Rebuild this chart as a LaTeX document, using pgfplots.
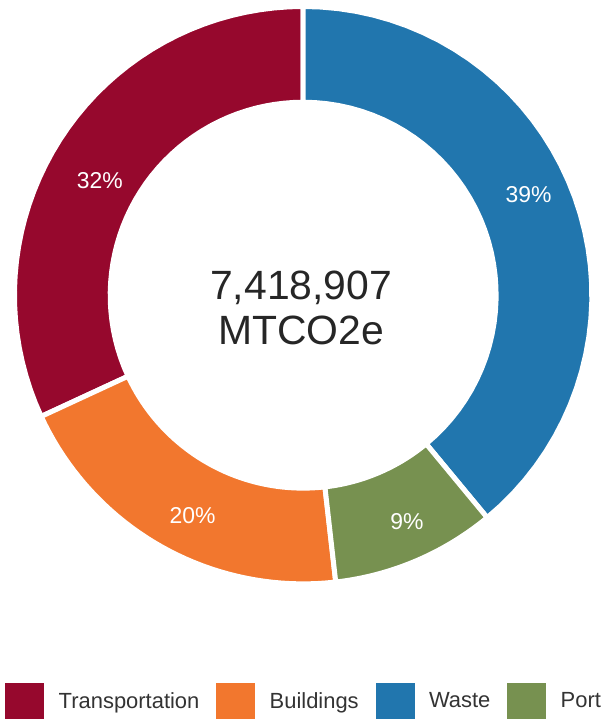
\documentclass[border=0pt]{standalone}
\usepackage{fontspec}
\setmainfont{Liberation Sans}
\usepackage{pgfplots}
\usepackage{pgfplotstable}
\pgfplotsset{compat=1.18}
\definecolor{cTrans}{HTML}{96082D}
\definecolor{cBuild}{HTML}{F2772E}
\definecolor{cWaste}{HTML}{2176AE}
\definecolor{cPort}{HTML}{779150}
\definecolor{txt}{HTML}{262626}
\definecolor{legtxt}{HTML}{333333}

\pgfplotstableread{
label value
Waste 39.0
Port 9.2
Buildings 19.9
Transportation 31.9
}\shares

\newcommand{\Ro}{289.5}
\newcommand{\Ri}{193.5}
\newcommand{\sector}[3]{%
  \addplot[fill=#3, draw=white, line width=5pt, line join=round,
    samples at={0,0.025,...,0.975,1,1.01,1.035,1.06,...,1.985,2.01}]
   ({ifthenelse(x<1.005, \Ro*cos(#1+(#2-#1)*x), \Ri*cos(#2-(#2-#1)*(x-1.01)))},
    {ifthenelse(x<1.005, \Ro*sin(#1+(#2-#1)*x), \Ri*sin(#2-(#2-#1)*(x-1.01)))}) -- cycle;%
}

\begin{document}
\begin{tikzpicture}
\pgfplotstablegetelem{0}{value}\of\shares\let\vWaste\pgfplotsretval
\pgfplotstablegetelem{1}{value}\of\shares\let\vPort\pgfplotsretval
\pgfplotstablegetelem{2}{value}\of\shares\let\vBuild\pgfplotsretval
\pgfplotstablegetelem{3}{value}\of\shares\let\vTrans\pgfplotsretval
\pgfmathsetmacro{\aA}{90}
\pgfmathsetmacro{\aB}{\aA-3.6*\vWaste}
\pgfmathsetmacro{\aC}{\aB-3.6*\vPort}
\pgfmathsetmacro{\aD}{\aC-3.6*\vBuild}
\pgfmathsetmacro{\aE}{\aD-3.6*\vTrans}
\begin{axis}[
  hide axis,
  x=1pt, y=1pt,
  xmin=-304, xmax=309, ymin=-425, ymax=296,
  clip=false,
  legend columns=4,
  legend image code/.code={\fill[#1, draw=none] (0pt,-18pt) rectangle (39pt,18pt);},
  legend style={draw=none, fill=none, at={(axis cs:0,-407)}, anchor=center,
    font=\fontsize{22}{22}\selectfont, text=legtxt,
    nodes={inner sep=0pt},
    /tikz/every odd column/.append style={column sep=14.5pt},
    /tikz/every even column/.append style={column sep=17pt},
    cells={anchor=west}},
]
\sector{\aD}{\aE}{cTrans}
\addlegendentry{Transportation}
\sector{\aC}{\aD}{cBuild}
\addlegendentry{Buildings}
\sector{\aA}{\aB}{cWaste}
\addlegendentry{Waste}
\sector{\aB}{\aC}{cPort}
\addlegendentry{Port}

\node[text=white, font=\fontsize{23}{23}\selectfont, inner sep=0pt] at (axis cs:226,101) {39\%};
\node[text=white, font=\fontsize{23}{23}\selectfont, inner sep=0pt] at (axis cs:104,-227) {9\%};
\node[text=white, font=\fontsize{23}{23}\selectfont, inner sep=0pt] at (axis cs:-111,-221) {20\%};
\node[text=white, font=\fontsize{23}{23}\selectfont, inner sep=0pt] at (axis cs:-204,115) {32\%};

\node[anchor=base, text=txt, font=\fontsize{41}{41}\selectfont, inner sep=0pt] at (axis cs:-2,-4) {7,418,907};
\node[anchor=base, text=txt, font=\fontsize{41}{41}\selectfont, inner sep=0pt] at (axis cs:-2,-49) {MTCO2e};
\end{axis}
\path (current axis.south west) rectangle (current axis.north east);
\end{tikzpicture}
\end{document}
